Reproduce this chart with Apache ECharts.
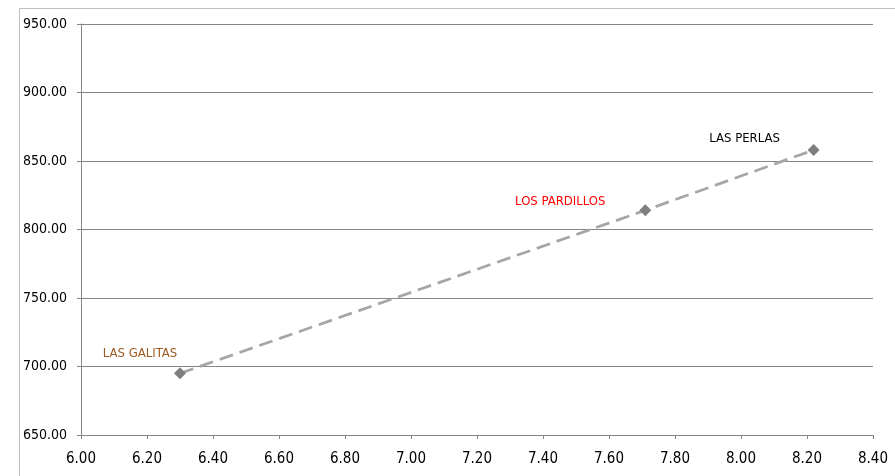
<!DOCTYPE html>
<html><head><meta charset="utf-8">
<script src="https://cdn.jsdelivr.net/npm/echarts@6/dist/echarts.min.js"></script>
<style>html,body{margin:0;padding:0;background:#fff}#c{width:895px;height:476px}</style>
</head><body><div id="c"></div>
<script>
const names = ['LAS GALITAS', 'LOS PARDILLOS', 'LAS PERLAS'];
const xValues = [6.30, 7.71, 8.22];
const yValues = [695, 814, 858];
const labelColors = ['#9C5A1E', '#FF0000', '#000000'];
const labelOffsets = [[-40, -20], [-85, -9], [-69, -11]];

const FONT = "'DejaVu Sans Condensed', 'Liberation Sans Narrow', 'Arial Narrow', sans-serif";
const chart = echarts.init(document.getElementById('c'), null, {renderer: 'canvas'});
const data = xValues.map((x, i) => ({
  value: [x, yValues[i]],
  name: names[i],
  label: {show: true, formatter: names[i], color: labelColors[i], position: 'inside', offset: labelOffsets[i]}
}));
chart.setOption({
  animation: false,
  graphic: [{type: 'rect', shape: {x: 19.5, y: 8.5, width: 1000, height: 1000}, style: {fill: 'none', stroke: '#BFBFBF', lineWidth: 1}, z: -10}],
  grid: {left: 81, right: 22, top: 24, bottom: 41, containLabel: false},
  xAxis: {
    type: 'value', min: 6.0, max: 8.4, interval: 0.2,
    axisLine: {show: true, lineStyle: {color: '#868686', width: 1}},
    axisTick: {show: true, length: 4, lineStyle: {color: '#868686'}},
    splitLine: {show: false},
    axisLabel: {formatter: v => v.toFixed(2), color: '#000', fontSize: 15, fontFamily: FONT, margin: 17}
  },
  yAxis: {
    type: 'value', min: 650, max: 950, interval: 50,
    axisLine: {show: true, lineStyle: {color: '#868686', width: 1}},
    axisTick: {show: true, length: 4, lineStyle: {color: '#868686'}},
    splitLine: {show: true, lineStyle: {color: '#868686', width: 1}},
    axisLabel: {formatter: v => v.toFixed(2), color: '#000', fontSize: 14, fontFamily: FONT, margin: 14}
  },
  series: [{
    type: 'line',
    data: data,
    symbol: 'diamond', symbolSize: 12,
    itemStyle: {color: '#7F7F7F'},
    lineStyle: {color: '#A6A6A6', width: 2.75, type: [14, 7]},
    label: {fontSize: 13, fontFamily: FONT}
  }]
});
</script></body></html>
